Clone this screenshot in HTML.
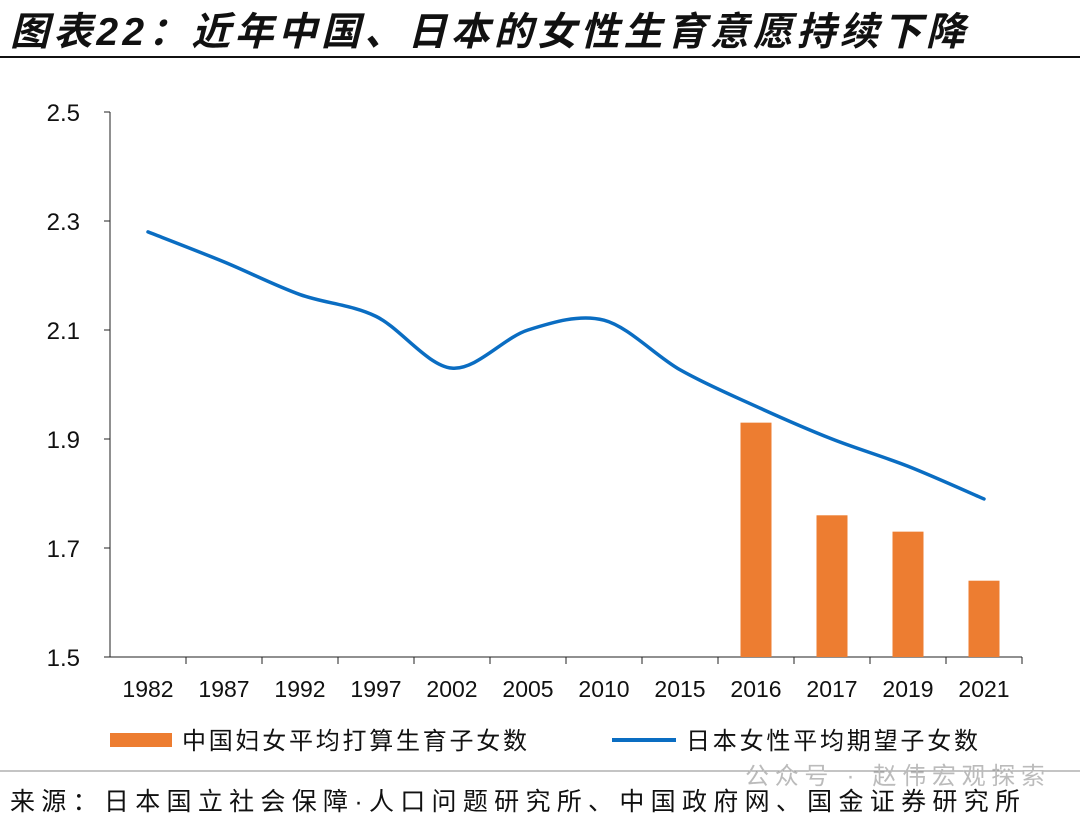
<!DOCTYPE html>
<html><head><meta charset="utf-8"><style>
body{margin:0;background:#fff;width:1080px;height:822px;overflow:hidden;font-family:"Liberation Sans","Noto Sans CJK SC",sans-serif;}
</style></head><body>
<svg width="1080" height="822" xmlns="http://www.w3.org/2000/svg">
<text x="10" y="45" font-size="39" font-weight="bold" font-style="italic" fill="#111" textLength="955" lengthAdjust="spacing">图表22：近年中国、日本的女性生育意愿持续下降</text>
<line x1="0" y1="57" x2="1080" y2="57" stroke="#111" stroke-width="2"/>
<g id="plot"></g>
<g>
<rect x="110" y="733" width="62" height="14" fill="#ED7D31"/>
<text x="182" y="749" font-size="24" fill="#111" textLength="345" lengthAdjust="spacing">中国妇女平均打算生育子女数</text>
<line x1="612" y1="740" x2="676" y2="740" stroke="#0A6DC2" stroke-width="4"/>
<text x="686" y="749" font-size="24" fill="#111" textLength="292" lengthAdjust="spacing">日本女性平均期望子女数</text>
</g>
<line x1="0" y1="771" x2="1080" y2="771" stroke="#888" stroke-width="1"/>
<text x="745" y="784" font-size="24" fill="#bbb" textLength="300" lengthAdjust="spacing">公众号 · 赵伟宏观探索</text>
<text x="10" y="810" font-size="25" fill="#111" textLength="1010" lengthAdjust="spacing">来源：日本国立社会保障·人口问题研究所、中国政府网、国金证券研究所</text>
</svg>
<script>
const categories=["1982","1987","1992","1997","2002","2005","2010","2015","2016","2017","2019","2021"];
const japanValues=[2.28,2.225,2.165,2.125,2.03,2.1,2.118,2.027,1.96,1.9,1.85,1.79];
const chinaValues=[null,null,null,null,null,null,null,null,1.93,1.76,1.73,1.64];
const yTicks=[1.5,1.7,1.9,2.1,2.3,2.5];
const NS="http://www.w3.org/2000/svg";
const L=110,R=1022,T=112,B=657,yMin=1.5,yMax=2.5;
const bw=(R-L)/categories.length;
const x=i=>L+bw*(i+0.5);
const y=v=>B-(v-yMin)/(yMax-yMin)*(B-T);
const g=document.getElementById('plot');
function mk(tag,attrs){const e=document.createElementNS(NS,tag);for(const k in attrs)e.setAttribute(k,attrs[k]);g.appendChild(e);return e;}
let e=mk('line',{x1:L,y1:T,x2:L,y2:B,stroke:'#222','stroke-width':1});


yTicks.forEach(t=>{
 const l=mk('line',{x1:L-6,x2:L,y1:y(t),y2:y(t),stroke:'#222'});
 
 
 const tx=mk('text',{x:80,y:y(t)+9,'text-anchor':'end','font-size':24,fill:'#111'});
 tx.textContent=t.toFixed(1);
 
 
});
e=mk('line',{x1:L,y1:B,x2:R,y2:B,stroke:'#222'});


categories.forEach((c,i)=>{
 const l=mk('line',{x1:L+bw*(i+1),x2:L+bw*(i+1),y1:B,y2:B+7,stroke:'#222'});
 
 
 const tx=mk('text',{x:x(i),y:B+40,'text-anchor':'middle','font-size':23,fill:'#111'});
 tx.textContent=c;
 
 
 if(chinaValues[i]!=null){
  const r=mk('rect',{x:x(i)-15.5,y:y(chinaValues[i]),width:31,height:B-y(chinaValues[i]),fill:'#ED7D31'});
  
  
 }
});
const pts=japanValues.map((v,i)=>[x(i),y(v)]);
let d='M'+pts[0][0]+','+pts[0][1];
for(let i=0;i<pts.length-1;i++){
 const p0=pts[Math.max(0,i-1)],p1=pts[i],p2=pts[i+1],p3=pts[Math.min(pts.length-1,i+2)];
 const t=0.16;
 const c1=[p1[0]+(p2[0]-p0[0])*t,p1[1]+(p2[1]-p0[1])*t];
 const c2=[p2[0]-(p3[0]-p1[0])*t,p2[1]-(p3[1]-p1[1])*t];
 d+=' C'+c1+' '+c2+' '+p2;
}
e=mk('path',{d:d,fill:'none',stroke:'#0A6DC2','stroke-width':3.5,'stroke-linecap':'round'});


</script>
</body></html>
